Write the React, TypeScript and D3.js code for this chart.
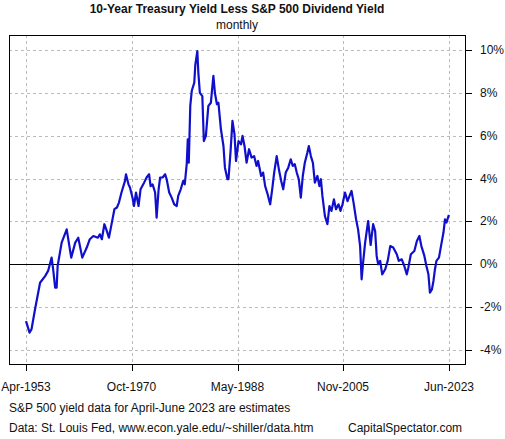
import React from "react";
import * as d3 from "d3";

const dates: string[] = [
  "1953-04","1953-11","1954-03","1954-10","1955-08","1956-06","1956-12","1957-07","1957-10","1958-02",
  "1958-05","1958-07","1959-03","1960-01","1960-10","1961-06","1961-12","1962-08","1963-05","1963-11",
  "1964-06","1965-03","1965-07","1965-11","1966-04","1966-09","1967-01","1967-05","1967-12","1968-05",
  "1968-09","1969-02","1969-09","1969-11","1970-04","1970-07","1970-12","1971-03","1971-07","1971-12",
  "1972-04","1972-11","1973-04","1973-09","1973-12","1974-04","1974-09","1974-12","1975-04","1975-07",
  "1975-12","1976-05","1976-08","1977-01","1977-06","1977-11","1978-04","1978-07","1978-12","1979-05",
  "1979-08","1979-12","1980-02","1980-04","1980-07","1980-10","1981-03","1981-05","1981-09","1981-11",
  "1982-02","1982-07","1982-10","1983-02","1983-07","1983-12","1984-05","1984-08","1984-12","1985-03",
  "1985-08","1986-01","1986-04","1986-09","1986-11","1987-03","1987-07","1987-11","1988-02","1988-07",
  "1988-12","1989-03","1989-07","1989-11","1990-04","1990-09","1991-02","1991-07","1991-10","1992-04",
  "1992-08","1992-12","1993-05","1993-10","1994-02","1994-06","1994-11","1995-04","1995-08","1995-12",
  "1996-05","1996-10","1997-03","1997-07","1997-11","1998-03","1998-07","1998-11","1999-03","1999-07",
  "1999-12","2000-03","2000-07","2000-11","2001-03","2001-08","2001-12","2002-03","2002-06","2002-11",
  "2003-04","2003-08","2003-12","2004-05","2004-09","2005-02","2005-06","2005-10","2006-03","2006-08",
  "2006-12","2007-04","2007-08","2008-01","2008-05","2008-09","2008-12","2009-03","2009-07","2010-01",
  "2010-06","2010-11","2011-03","2011-06","2011-09","2012-01","2012-05","2012-11","2013-04","2013-09",
  "2014-03","2014-10","2015-02","2015-08","2016-01","2016-06","2016-09","2017-02","2017-09","2018-02",
  "2018-07","2018-11","2019-05","2019-09","2020-01","2020-04","2020-08","2020-11","2021-02","2021-05",
  "2021-10","2022-02","2022-07","2022-10","2023-01","2023-05","2023-06"
];

const spread: number[] = [
  -2.65,-3.19,-3.03,-2.10,-0.86,-0.55,-0.31,0.31,-0.23,-1.09,
  -1.09,-0.08,1.01,1.63,0.31,1.01,1.24,0.31,0.78,1.17,
  1.32,1.24,1.40,1.17,1.87,1.55,1.24,1.71,2.57,2.65,
  2.88,3.35,3.89,4.20,3.73,3.58,3.11,2.72,3.35,2.72,
  3.50,3.81,4.05,4.20,3.65,3.73,3.35,2.18,3.50,4.05,
  4.05,4.20,3.97,3.35,3.11,2.80,2.72,3.19,3.50,3.89,
  3.73,4.70,5.83,4.74,7.39,8.10,8.48,9.30,9.95,8.95,
  8.00,7.85,5.75,5.99,7.39,7.54,8.79,8.00,7.47,7.54,
  6.30,5.52,4.51,3.97,3.97,5.20,6.69,6.07,4.82,5.75,
  5.60,5.99,5.52,4.74,5.37,4.98,5.05,4.59,4.82,4.12,
  4.28,3.65,3.27,2.80,3.50,4.28,5.05,4.35,3.89,3.50,
  4.28,4.51,4.90,4.59,4.67,4.28,3.97,3.11,4.12,4.74,
  5.21,5.52,5.05,4.74,3.81,4.12,3.65,3.97,3.19,2.25,
  1.87,2.72,2.49,3.03,2.57,2.80,2.49,2.80,3.35,2.95,
  3.19,3.42,2.88,2.10,1.63,0.85,-0.70,0.08,1.00,2.02,
  0.90,1.87,1.55,0.39,0.00,0.16,-0.47,-0.23,0.16,0.85,
  0.78,0.47,0.16,0.23,-0.08,-0.47,-0.16,0.47,0.62,1.09,
  1.32,0.85,0.39,-0.08,-0.47,-1.32,-1.17,-0.78,-0.23,0.16,
  0.31,0.85,1.48,2.10,1.95,2.25,2.30
];

const xTickDates: string[] = ["1953-04", "1970-10", "1988-05", "2005-11", "2023-06"];
const xTickLabels: string[] = ["Apr-1953", "Oct-1970", "May-1988", "Nov-2005", "Jun-2023"];
const yTicks: number[] = [10, 8, 6, 4, 2, 0, -2, -4];

const title = "10-Year Treasury Yield Less S&P 500 Dividend Yield";
const subtitle = "monthly";
const note = "S&P 500 yield data for April-June 2023 are estimates";
const source = "Data: St. Louis Fed, www.econ.yale.edu/~shiller/data.htm";
const brand = "CapitalSpectator.com";

const parse = d3.timeParse("%Y-%m");

export default function App() {
  const W = 505, H = 439;
  const box = { l: 9, r: 465, t: 35, b: 364 };
  const x = d3.scaleTime()
    .domain([parse("1953-04") as Date, parse("2023-06") as Date])
    .range([26, 449]);
  const y = d3.scaleLinear().domain([-4, 10]).range([350, 50]);
  const pts = dates.map((d, i) => [parse(d) as Date, spread[i]] as [Date, number]);
  const line = d3.line<[Date, number]>()
    .x((d) => x(d[0]))
    .y((d) => y(d[1]));
  const font = "Arial, 'Liberation Sans', sans-serif";
  const px = (v: number) => Math.round(v) + 0.5;

  return (
    <svg width={W} height={H} style={{ position: "absolute", left: 0, top: 0, background: "#fff" }}
      fontFamily={font}>
      <rect x={0} y={0} width={W} height={H} fill="#fff" />
      <text x={237} y={13} textAnchor="middle" fontSize={12} fontWeight="bold" fill="#111">{title}</text>
      <text x={237} y={29} textAnchor="middle" fontSize={12} fill="#111">{subtitle}</text>
      {xTickDates.map((d) => (
        <line key={"gx" + d} x1={px(x(parse(d) as Date))} x2={px(x(parse(d) as Date))} y1={box.t} y2={box.b}
          stroke="#bbbbbb" strokeDasharray="3 3" />
      ))}
      {yTicks.map((v) => (
        <line key={"gy" + v} x1={box.l} x2={box.r} y1={px(y(v))} y2={px(y(v))}
          stroke="#bbbbbb" strokeDasharray="3 3" />
      ))}
      <line x1={box.l} x2={box.r} y1={px(y(0))} y2={px(y(0))} stroke="#000" strokeWidth={1} />
      <path d={line(pts) || ""} fill="none" stroke="#1010cc" strokeWidth={2.2} strokeLinejoin="round" />
      <rect x={box.l + 0.5} y={box.t + 0.5} width={box.r - box.l} height={box.b - box.t}
        fill="none" stroke="#000" strokeWidth={1} />
      {yTicks.map((v) => (
        <g key={"yt" + v}>
          <line x1={box.r} x2={box.r + 7} y1={px(y(v))} y2={px(y(v))} stroke="#000" />
          <text x={480} y={y(v) + 4} fontSize={12} fill="#111">{v + "%"}</text>
        </g>
      ))}
      {xTickDates.map((d, i) => (
        <g key={"xt" + d}>
          <line x1={px(x(parse(d) as Date))} x2={px(x(parse(d) as Date))} y1={box.b} y2={box.b + 7} stroke="#000" />
          <text x={x(parse(d) as Date)} y={391} textAnchor="middle" fontSize={12} fill="#111">{xTickLabels[i]}</text>
        </g>
      ))}
      <text x={9} y={412} fontSize={12} fill="#111">{note}</text>
      <text x={9} y={432} fontSize={12} fill="#111">{source}</text>
      <text x={348} y={432} fontSize={12} fill="#111">{brand}</text>
    </svg>
  );
}
